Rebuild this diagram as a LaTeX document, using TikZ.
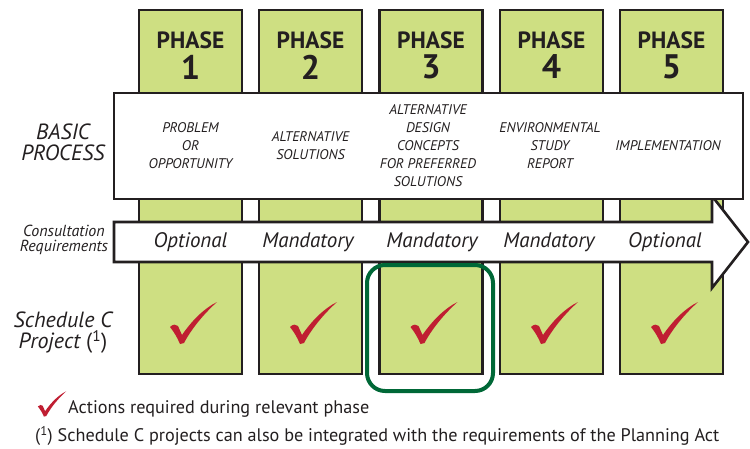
\documentclass[tikz,border=0pt]{standalone}
\usepackage{fontspec}
\setmainfont{PT Sans}
\definecolor{colgreen}{RGB}{206,223,130}
\definecolor{inkline}{RGB}{35,31,32}
\definecolor{chkred}{RGB}{192,30,50}
\definecolor{ringgreen}{RGB}{0,104,55}
\tikzset{
  col/.style={draw=inkline, line width=2.6pt, fill=colgreen, minimum width=103pt, minimum height=364pt, inner sep=0pt},
  phasetxt/.style={font=\fontsize{23.5}{23.5}\selectfont\bfseries, text=inkline, inner sep=0pt},
  numtxt/.style={font=\fontsize{34}{34}\selectfont\bfseries, text=inkline, inner sep=0pt},
  proctxt/.style={font=\fontsize{14}{18}\selectfont\itshape, text=inkline, align=center, inner sep=0pt},
  constxt/.style={font=\fontsize{21}{21}\selectfont\itshape, text=inkline, inner sep=0pt},
  lefttxt/.style={font=\fontsize{22}{21}\selectfont\itshape, text=inkline, align=center, inner sep=0pt},
  smalllefttxt/.style={font=\fontsize{16}{14.5}\selectfont\itshape, text=inkline, align=center, inner sep=0pt},
  legtxt/.style={font=\fontsize{18.2}{18}\selectfont, text=inkline, anchor=west, inner sep=0pt},
  chk/.pic={\fill[chkred] (-11,-16) .. controls (-8,-19) and (-5,-19) .. (-3,-17) -- (1,-8) .. controls (12,-24) and (24,-35) .. (36,-41) .. controls (26,-32) and (12,-17) .. (3,0) -- (-1,1) .. controls (-4,-6) and (-7,-11) .. (-11,-16) -- cycle;}
}
\begin{document}
\begin{tikzpicture}[x=1pt,y=-1pt]
\useasboundingbox (0,0) rectangle (750,448);
% columns
\foreach \i/\cx in {1/190.5,2/310.5,3/431,4/551.5,5/671.5}{
  \node[col] (c\i) at (\cx,192) {};
  \node[phasetxt] (p\i) at (\cx,40) {PHASE};
  \node[numtxt] (n\i) at (\cx,67) {\i};
}
% consultation arrow
\draw[draw=inkline, line width=2.6pt, fill=white, line join=miter]
  (114,222) -- (712,222) -- (712,196) -- (748,242) -- (712,288) -- (712,262) -- (114,262) -- cycle;
\coordinate (arrowtip) at (748,242);
% basic process box
\node[draw=inkline, line width=2.6pt, fill=white, minimum width=629pt, minimum height=106pt, inner sep=0pt] (proc) at (428.5,146) {};
% process texts
\node[proctxt] (t1) at (190.5,146) {PROBLEM\\OR\\OPPORTUNITY};
\node[proctxt] (t2) at (310.5,146) {ALTERNATIVE\\SOLUTIONS};
\node[proctxt] (t3) at (428,146) {ALTERNATIVE\\DESIGN\\CONCEPTS\\FOR PREFERRED\\SOLUTIONS};
\node[proctxt] (t4) at (550,146) {ENVIRONMENTAL\\STUDY\\REPORT};
\node[proctxt] (t5) at (668,146) {IMPLEMENTATION};
% consultation texts
\node[constxt] (o1) at (190.5,242) {Optional};
\node[constxt] (o2) at (308,242) {Mandatory};
\node[constxt] (o3) at (432,242) {Mandatory};
\node[constxt] (o4) at (549,242) {Mandatory};
\node[constxt] (o5) at (665,242) {Optional};
% left labels
\node[lefttxt] (lbasic) at (63,142) {BASIC\\PROCESS};
\node[smalllefttxt] (lcons) at (64,240) {Consultation\\Requirements};
\node[lefttxt] (lsched) at (63,333) {Schedule C\\Project {\upshape(\textsuperscript{1})}};
% highlight ring
\draw[ringgreen, line width=4pt, rounded corners=18pt] (367,265) rectangle (493,391);
\node[inner sep=0pt, minimum width=126pt, minimum height=126pt] (ring) at (430,328) {};
% checks
\foreach \cx in {181,301,421.5,542,662}{
  \pic at (\cx,343) {chk};
}
\pic[scale=0.6] at (44.5,416) {chk};
% legend
\node[legtxt] (leg1) at (68,409) {Actions required during relevant phase};
\node[legtxt] (leg2) at (35,436) {(\textsuperscript{1}) Schedule C projects can also be integrated with the requirements of the Planning Act};
\end{tikzpicture}
\end{document}
